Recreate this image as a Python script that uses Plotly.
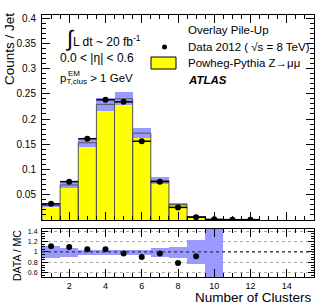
import plotly.graph_objects as go

W, H = 329, 305

# ---------------- data ----------------
bins_data = [1, 2, 3, 4, 5, 6, 7, 8, 9, 10, 11, 12]
data_vals = [0.032, 0.076, 0.161, 0.238, 0.234, 0.156, 0.076, 0.025, 0.0055, 0.0013, 0.0007, 0.0007]
data_err = [0.0012, 0.0018, 0.0025, 0.003, 0.003, 0.0025, 0.0018, 0.001, 0.0006, 0.0003, 0.0002, 0.0002]

bins_mc = [1, 2, 3, 4, 5, 6, 7, 8, 9, 10]
mc_vals = [0.0288, 0.0694, 0.153, 0.229, 0.240, 0.172, 0.078, 0.031, 0.0070, 0.0010]
mc_rel_err = [0.115, 0.085, 0.055, 0.055, 0.055, 0.055, 0.08, 0.11, 0.23, 1.2]

ratio_bins = [1, 2, 3, 4, 5, 6, 7, 8, 9]
ratio_vals = [1.11, 1.095, 1.05, 1.05, 0.97, 0.905, 0.97, 0.79, 0.92]

main_ytick_vals = [0.05, 0.1, 0.15, 0.2, 0.25, 0.3, 0.35, 0.4]
main_ytick_text = ["0.05", "0.1", "0.15", "0.2", "0.25", "0.3", "0.35", "0.4"]
ratio_ytick_vals = [0.6, 0.8, 1.0, 1.2, 1.4]
ratio_ytick_text = ["0.6", "0.8", "1", "1.2", "1.4"]
xtick_vals = [2, 4, 6, 8, 10, 12, 14]
xtick_text = ["2", "4", "6", "8", "10", "12", "14"]

FONT = "Liberation Sans, Arial, Helvetica, sans-serif"
YELLOW = "#ffff00"
BAND = "#9999ff"
BIN_W = 1.0


def px(x):
    return x / W


def py(y):
    return 1 - y / H


mc_err = [v * r for v, r in zip(mc_vals, mc_rel_err)]

# outline path of MC histogram, derived from bin centres and values
out_x, out_y = [], []
for b, v in zip(bins_mc, mc_vals):
    lo, hi = b - BIN_W / 2, b + BIN_W / 2
    out_x += [lo, lo, hi, hi, None]
    out_y += [0, v, v, 0, None]

fig = go.Figure()

# MC histogram (yellow)
fig.add_trace(go.Bar(
    x=bins_mc, y=mc_vals, width=BIN_W,
    marker=dict(color=YELLOW, line=dict(width=0)),
    xaxis="x", yaxis="y", showlegend=False, hoverinfo="skip"))
# MC outline
fig.add_trace(go.Scatter(
    x=out_x, y=out_y, mode="lines", line=dict(color="#555555", width=1),
    xaxis="x", yaxis="y", showlegend=False, hoverinfo="skip", connectgaps=False))
# MC uncertainty band
fig.add_trace(go.Bar(
    x=bins_mc, y=[2 * e for e in mc_err],
    base=[v - e for v, e in zip(mc_vals, mc_err)], width=BIN_W,
    marker=dict(color=BAND, line=dict(width=0)),
    xaxis="x", yaxis="y", showlegend=False, hoverinfo="skip"))
# Data
fig.add_trace(go.Scatter(
    x=bins_data, y=data_vals, mode="markers",
    marker=dict(color="black", size=6),
    error_y=dict(type="data", array=data_err, color="black", thickness=1.5, width=0),
    error_x=dict(type="constant", value=BIN_W / 2, color="black", thickness=1.5, width=0),
    xaxis="x", yaxis="y", showlegend=False))

# Ratio band
fig.add_trace(go.Bar(
    x=bins_mc, y=[2 * r for r in mc_rel_err],
    base=[1 - r for r in mc_rel_err], width=BIN_W,
    marker=dict(color=BAND, line=dict(width=0)),
    xaxis="x2", yaxis="y2", showlegend=False, hoverinfo="skip"))
# Ratio points
fig.add_trace(go.Scatter(
    x=ratio_bins, y=ratio_vals, mode="markers",
    marker=dict(color="black", size=6),
    xaxis="x2", yaxis="y2", showlegend=False))

xdom = [px(42), px(314)]
main_dom = [py(220), py(15)]
ratio_dom = [py(277), py(228.5)]

common_x = dict(
    domain=xdom, range=[0.5, 15.5], showline=True, linecolor="black", linewidth=1,
    mirror="ticks", ticks="inside", ticklen=8, tickwidth=1, tickcolor="black",
    tickvals=xtick_vals, showgrid=False, zeroline=False,
    minor=dict(dtick=0.5, tick0=0.5, ticks="inside", ticklen=4, tickcolor="black", showgrid=False),
)

fig.update_layout(
    template="none",
    width=W, height=H, margin=dict(l=0, r=0, t=0, b=0, pad=0),
    paper_bgcolor="white", plot_bgcolor="white",
    barmode="overlay", bargap=0,
    font=dict(family=FONT, color="black", size=10),
    xaxis=dict(**common_x, anchor="y", showticklabels=False),
    yaxis=dict(
        domain=main_dom, range=[0, 0.406], anchor="x",
        showline=True, linecolor="black", linewidth=1, mirror="ticks",
        ticks="inside", ticklen=8, tickcolor="black",
        tickvals=main_ytick_vals, ticktext=main_ytick_text,
        tickfont=dict(size=10, family=FONT), ticklabelstandoff=3,
        showgrid=False, zeroline=False,
        minor=dict(dtick=0.01, tick0=0, ticks="inside", ticklen=4, tickcolor="black", showgrid=False),
    ),
    xaxis2=dict(**common_x, anchor="y2", showticklabels=True, ticktext=xtick_text,
                tickfont=dict(size=9, family=FONT), ticklabelstandoff=0),
    yaxis2=dict(
        domain=ratio_dom, range=[0.52, 1.45], anchor="x2",
        showline=True, linecolor="black", linewidth=1, mirror="ticks",
        ticks="inside", ticklen=6, tickcolor="black",
        tickvals=ratio_ytick_vals, ticktext=ratio_ytick_text,
        tickfont=dict(size=7, family=FONT), ticklabelstandoff=2,
        showgrid=True, gridcolor="#aaaaaa", griddash="dot", gridwidth=1, zeroline=False,
        minor=dict(dtick=0.05, tick0=0, ticks="inside", ticklen=3, tickcolor="black", showgrid=False),
    ),
)

# Reference line at ratio = 1
fig.add_shape(type="line", xref="x2 domain", yref="y2", x0=0, x1=1, y0=1, y1=1,
              line=dict(color="#333333", width=1.2, dash="dot"), layer="above")

ann = []
# axis titles
ann.append(dict(text="Counts / Jet", x=px(9), y=py(11), xref="paper", yref="paper",
                xanchor="center", yanchor="top", textangle=-90, showarrow=False,
                font=dict(size=13.5)))
ann.append(dict(text="DATA / MC", x=px(17), y=py(256), xref="paper", yref="paper",
                xanchor="center", yanchor="middle", textangle=-90, showarrow=False,
                font=dict(size=10.5)))
ann.append(dict(text="Number of Clusters", x=px(314), y=py(297), xref="paper", yref="paper",
                xanchor="right", yanchor="middle", showarrow=False, font=dict(size=13.5)))

# left text block
ann.append(dict(text="<span style='font-size:22px'>∫</span>L dt ~ 20 fb<sup>-1</sup>",
                x=px(63), y=py(38), xref="paper", yref="paper",
                xanchor="left", yanchor="middle", showarrow=False, font=dict(size=12)))
ann.append(dict(text="0.0 < |η| < 0.6", x=px(58), y=py(58), xref="paper", yref="paper",
                xanchor="left", yanchor="middle", showarrow=False, font=dict(size=12)))
ann.append(dict(text="p<sub>T,clus</sub> > 1 GeV", x=px(58), y=py(79), xref="paper", yref="paper",
                xanchor="left", yanchor="middle", showarrow=False, font=dict(size=11.5)))
ann.append(dict(text="EM", x=px(66), y=py(73), xref="paper", yref="paper",
                xanchor="left", yanchor="middle", showarrow=False, font=dict(size=8)))

# legend block
LEG = 11.5
ann.append(dict(text="Overlay Pile-Up", x=px(186), y=py(30), xref="paper", yref="paper",
                xanchor="left", yanchor="middle", showarrow=False, font=dict(size=LEG)))
ann.append(dict(text="Data 2012 ( √s = 8 TeV)", x=px(186), y=py(47), xref="paper", yref="paper",
                xanchor="left", yanchor="middle", showarrow=False, font=dict(size=LEG)))
ann.append(dict(text="Powheg-Pythia Z→μμ", x=px(186), y=py(63),
                xref="paper", yref="paper",
                xanchor="left", yanchor="middle", showarrow=False, font=dict(size=LEG)))
ann.append(dict(text="<b><i>ATLAS</i></b>", x=px(186), y=py(80), xref="paper", yref="paper",
                xanchor="left", yanchor="middle", showarrow=False, font=dict(size=LEG)))
fig.update_layout(annotations=ann)

# legend symbols
fig.add_shape(type="circle", xref="paper", yref="paper",
              x0=px(162), x1=px(167), y0=py(49.5), y1=py(44.5),
              fillcolor="black", line=dict(color="black", width=0))
fig.add_shape(type="rect", xref="paper", yref="paper",
              x0=px(151), x1=px(176), y0=py(69), y1=py(57),
              fillcolor=YELLOW, line=dict(color="black", width=1))

fig.write_html(
    "out.html",
    config={"displayModeBar": False},
    post_script="document.body.style.margin='0';document.body.style.padding='0';",
)
